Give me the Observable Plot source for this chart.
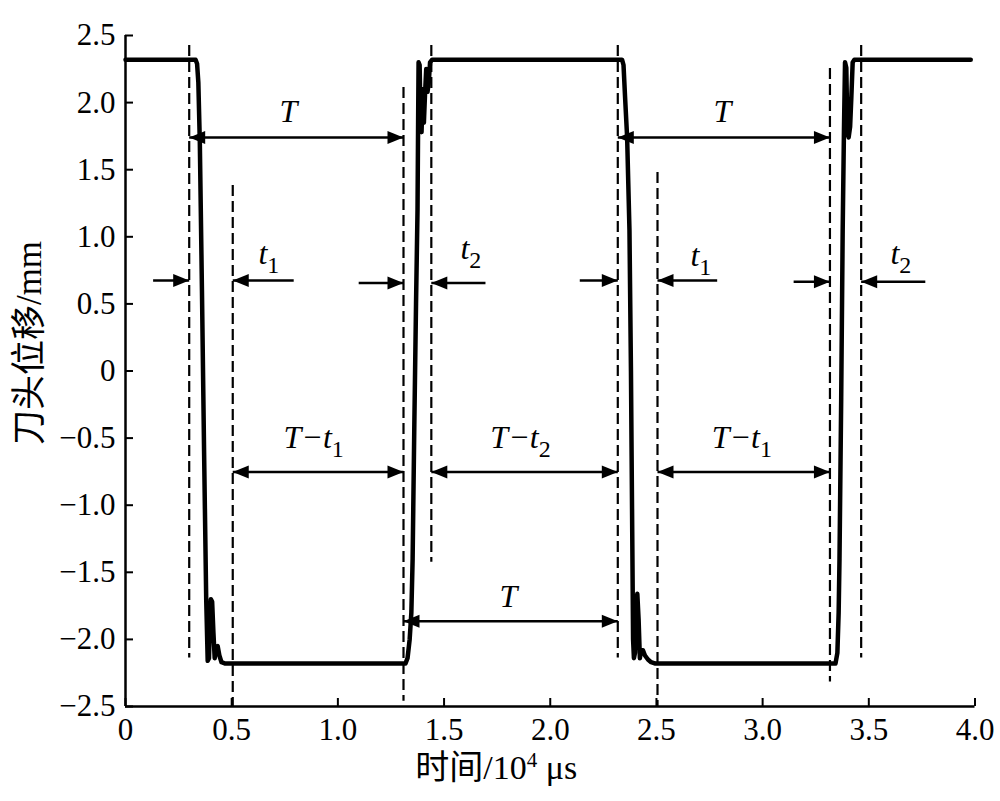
<!DOCTYPE html>
<html><head><meta charset="utf-8">
<script src="https://cdn.jsdelivr.net/npm/d3@7"></script>
<script src="https://cdn.jsdelivr.net/npm/@observablehq/plot@0.6"></script>
<style>body{margin:0;background:#fff}</style>
</head><body><div id="chart"></div>
<script>
// Displacement trace (time in 10^4 µs, displacement in mm)
const timeVals = [
  0, 0.330, 0.337, 0.343, 0.350, 0.360, 0.370, 0.380, 0.387, 0.393, 0.398, 0.402, 0.408, 0.414, 0.420, 0.426, 0.434, 0.442, 0.452, 0.470,
  1.318, 1.328, 1.338, 1.346, 1.352, 1.360, 1.368, 1.375, 1.378, 1.380, 1.385, 1.389, 1.394, 1.400, 1.405, 1.410, 1.416, 1.422, 1.428, 1.434, 1.444,
  2.338, 2.345, 2.352, 2.362, 2.373, 2.380, 2.386, 2.390, 2.394, 2.399, 2.404, 2.410, 2.416, 2.422, 2.428, 2.436, 2.446, 2.460, 2.475, 2.495,
  3.343, 3.352, 3.358, 3.362, 3.370, 3.377, 3.383, 3.388, 3.394, 3.399, 3.405, 3.412, 3.418, 3.424, 3.432, 3.980
];
const dispVals = [
  2.32, 2.32, 2.29, 2.15, 1.70, 0.60, -0.60, -1.70, -2.16, -2.14, -1.85, -1.70, -1.72, -1.95, -2.14, -2.06, -2.05, -2.12, -2.17, -2.18,
  -2.18, -2.14, -2.00, -1.80, -1.40, -0.40, 0.50, 1.20, 1.90, 2.30, 2.28, 1.90, 1.78, 2.10, 1.85, 2.05, 2.25, 2.08, 2.15, 2.30, 2.32,
  2.32, 2.28, 2.05, 1.74, 1.05, 0.00, -1.20, -2.00, -2.14, -2.10, -1.75, -1.66, -1.85, -2.14, -2.08, -2.08, -2.12, -2.15, -2.17, -2.18,
  -2.18, -2.10, -1.80, -1.40, -0.20, 1.05, 1.80, 2.30, 2.26, 1.80, 1.74, 1.82, 2.05, 2.30, 2.32, 2.32
];

// Dashed reference lines
const dashX  = [0.300, 0.505, 1.309, 1.440, 2.318, 2.505, 3.317, 3.464];
const dashY1 = [2.425, 1.383, 2.113, 2.425, 2.425, 1.480, 2.254, 2.425];
const dashY2 = [-2.139, -2.50, -2.46, -1.425, -2.139, -2.50, -2.318, -2.139];

// Double-headed span arrows (T, T−t)
const spanX1 = [0.300, 2.318, 1.309, 0.505, 1.440, 2.505];
const spanX2 = [1.309, 3.317, 2.318, 1.309, 2.318, 3.317];
const spanY  = [1.740, 1.740, -1.864, -0.752, -0.752, -0.752];

// Single arrows pointing at the dashed lines (t1, t2)
const pointFrom = [0.130, 0.792, 1.098, 1.695, 2.139, 2.786, 3.146, 3.766];
const pointTip  = [0.300, 0.505, 1.309, 1.440, 2.318, 2.505, 3.317, 3.464];
const pointY    = [0.675, 0.675, 0.655, 0.655, 0.675, 0.675, 0.665, 0.665];

// Labels
const tLabels = ["T", "T", "T"];
const tLabelX = [0.767, 2.810, 1.803];
const tLabelY = [1.930, 1.930, -1.685];
const subLabels = ["T−t_1", "T−t_2", "T−t_1", "t_1", "t_2", "t_1", "t_2"];
const subLabelX = [0.744, 1.718, 2.760, 0.626, 1.577, 2.660, 3.602];
const subLabelY = [-0.500, -0.500, -0.500, 0.876, 0.913, 0.861, 0.876];

const xTicks = [0, 0.5, 1.0, 1.5, 2.0, 2.5, 3.0, 3.5, 4.0];
const yTicks = [-2.5, -2.0, -1.5, -1.0, -0.5, 0, 0.5, 1.0, 1.5, 2.0, 2.5];
const xLabel = "时间/10^4 μs";
const yLabel = "刀头位移/mm";

// ---- build tables ----
const curve = timeVals.map((t, i) => ({t, d: dispVals[i]}));
const dashes = dashX.map((x, i) => ({x, y1: dashY1[i], y2: dashY2[i]}));
const spans = spanX1.map((x1, i) => ({x1, x2: spanX2[i], y: spanY[i]}));
const points = pointFrom.map((x1, i) => ({x1, x2: pointTip[i], y: pointY[i]}));
const rightHeads = [
  ...spans.map(s => ({x: s.x2, y: s.y})),
  ...points.filter(p => p.x2 > p.x1).map(p => ({x: p.x2, y: p.y}))
];
const leftHeads = [
  ...spans.map(s => ({x: s.x1, y: s.y})),
  ...points.filter(p => p.x2 < p.x1).map(p => ({x: p.x2, y: p.y}))
];
const tTable = tLabels.map((s, i) => ({s, x: tLabelX[i], y: tLabelY[i]}));
const subTable = subLabels.map((s, i) => ({s, x: subLabelX[i], y: subLabelY[i]}));

const headRight = {draw(ctx) { ctx.moveTo(0, 0); ctx.lineTo(-16, -6.5); ctx.lineTo(-16, 6.5); ctx.closePath(); }};
const headLeft  = {draw(ctx) { ctx.moveTo(0, 0); ctx.lineTo(16, -6.5); ctx.lineTo(16, 6.5); ctx.closePath(); }};

const FONT = '"Liberation Serif", "Times New Roman", "Noto Sans CJK SC", serif';
const fmt = d => d === 0 ? "0" : d3.format(".1f")(d);

const chart = Plot.plot({
  width: 1000,
  height: 801,
  marginLeft: 125,
  marginRight: 25.5,
  marginTop: 35,
  marginBottom: 95,
  style: {fontFamily: FONT, fontSize: "31px", color: "black", background: "white"},
  x: {domain: [0, 4], axis: null},
  y: {domain: [-2.5, 2.5], axis: null},
  marks: [
    Plot.axisY(yTicks, {anchor: "left", tickSize: -8, tickPadding: 18, tickFormat: fmt, fontSize: 31, strokeWidth: 2, label: null}),
    Plot.axisX(xTicks, {anchor: "bottom", tickSize: -8, tickPadding: 19, tickFormat: fmt, fontSize: 31, strokeWidth: 2, label: null}),
    Plot.ruleX(dashes, {x: "x", y1: "y1", y2: "y2", stroke: "black", strokeWidth: 2.2, strokeDasharray: "11,5"}),
    Plot.link(spans, {x1: "x1", x2: "x2", y1: "y", y2: "y", stroke: "black", strokeWidth: 2.5}),
    Plot.link(points, {x1: "x1", x2: "x2", y1: "y", y2: "y", stroke: "black", strokeWidth: 2.5}),
    Plot.dot(rightHeads, {x: "x", y: "y", symbol: headRight, fill: "black", stroke: "none"}),
    Plot.dot(leftHeads, {x: "x", y: "y", symbol: headLeft, fill: "black", stroke: "none"}),
    Plot.line(curve, {x: "t", y: "d", stroke: "black", strokeWidth: 4.5, strokeLinejoin: "round", strokeLinecap: "round"}),
    Plot.ruleX([0], {stroke: "black", strokeWidth: 2.5}),
    Plot.ruleY([-2.5], {stroke: "black", strokeWidth: 2.5}),
    Plot.text(tTable, {x: "x", y: "y", text: "s", fontStyle: "italic", fontSize: 32, textAnchor: "middle", fill: "black"}),
    Plot.text(subTable, {x: "x", y: "y", text: "s", fontStyle: "italic", fontSize: 32, textAnchor: "start", fill: "black"}),
    Plot.text([yLabel], {frameAnchor: "left", rotate: -90, dx: -96, dy: -28, fontSize: 35, textAnchor: "middle", fill: "black"}),
    Plot.text([xLabel], {frameAnchor: "bottom", dx: -54, dy: 72, fontSize: 34, textAnchor: "middle", fill: "black"})
  ]
});

// rich text: "_x" subscript, "^x" superscript
const NS = "http://www.w3.org/2000/svg";
chart.querySelectorAll("text").forEach(el => {
  const s = el.textContent;
  const m = s.match(/^(.*?)([_^])(\S)(.*)$/);
  if (!m || el.querySelector("tspan")) return;
  const [, a, kind, b, c] = m;
  const shift = kind === "_" ? 9 : -12;
  el.textContent = "";
  const t1 = document.createElementNS(NS, "tspan"); t1.textContent = a; el.appendChild(t1);
  const t2 = document.createElementNS(NS, "tspan"); t2.textContent = b;
  t2.setAttribute("dy", shift); t2.setAttribute("font-style", "normal");
  t2.setAttribute("font-size", kind === "_" ? 24 : 21); el.appendChild(t2);
  if (c) {
    const t3 = document.createElementNS(NS, "tspan"); t3.textContent = c;
    t3.setAttribute("dy", -shift); el.appendChild(t3);
  }
});

document.getElementById("chart").appendChild(chart);
</script></body></html>
